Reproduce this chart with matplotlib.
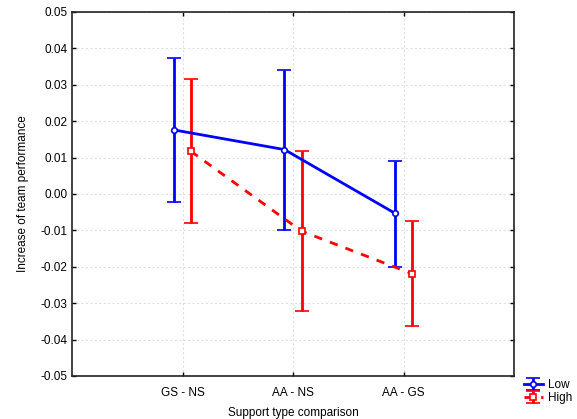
import matplotlib
matplotlib.use("Agg")
import matplotlib.pyplot as plt
import numpy as np

plt.rcParams['font.family'] = ['Liberation Sans', 'DejaVu Sans']

categories = ["GS - NS", "AA - NS", "AA - GS"]
low_mean = [0.0176, 0.0122, -0.0053]
low_upper = [0.0373, 0.0341, 0.0091]
low_lower = [-0.0021, -0.0100, -0.0201]
high_mean = [0.0117, -0.0102, -0.0219]
high_upper = [0.0315, 0.0118, -0.0075]
high_lower = [-0.0080, -0.0322, -0.0364]
yticks = [-0.05, -0.04, -0.03, -0.02, -0.01, 0.00, 0.01, 0.02, 0.03, 0.04, 0.05]

fig = plt.figure(figsize=(5.77, 4.19), dpi=100)
ax = fig.add_axes([72/577, 1 - 376/419, 442/577, 364/419])

x = np.arange(1, len(categories) + 1)
off = 0.077
lm = np.array(low_mean); hm = np.array(high_mean)
lerr = [lm - np.array(low_lower), np.array(low_upper) - lm]
herr = [hm - np.array(high_lower), np.array(high_upper) - hm]

eb1 = ax.errorbar(x - off, lm, yerr=lerr, color='#0000ff', lw=2, elinewidth=2,
                  capsize=5, capthick=2, marker='o', ms=4, mfc='white',
                  mec='#0000ff', mew=1.2, label='Low', zorder=3)
eb2 = ax.errorbar(x + off, hm, yerr=herr, color='#ff0000', lw=2, elinewidth=2,
                  ls=(0, (3, 3)), capsize=5, capthick=2, marker='s', ms=4,
                  mfc='white', mec='#ff0000', mew=1.2, label='High', zorder=3)
eb2[-1][0].set_linestyle('-')

ax.set_xlim(0, 4)
ax.set_ylim(-0.05, 0.05)
ax.set_xticks(x)
ax.set_xticklabels(categories)
ax.set_yticks(yticks)
ax.set_yticklabels([f"{v:.2f}" for v in yticks])
ax.tick_params(direction='in', top=True, right=True, labelsize=8.5, length=3, width=1)
ax.tick_params(axis='x', pad=8)
ax.grid(True, ls=(0, (2, 2)), color='#e0e0e0', lw=0.8)
for s in ax.spines.values():
    s.set_linewidth(1.2)
    s.set_color('#222222')
ax.set_xlabel("Support type comparison", fontsize=8.5, labelpad=6)
ax.set_ylabel("Increase of team performance", fontsize=8.5, labelpad=8)

fig.legend(handles=[eb1, eb2], labels=['Low', 'High'], loc='lower left',
           bbox_to_anchor=(518/577, 1 - 410/419), frameon=False, fontsize=8.5,
           handlelength=1.6, handletextpad=0.4, labelspacing=0.1, borderpad=0)

fig.savefig("out.png", dpi=100)
